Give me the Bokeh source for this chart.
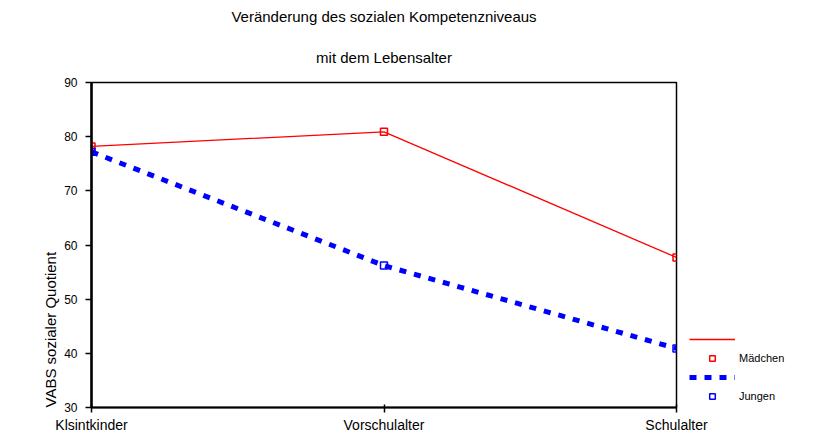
from bokeh.plotting import figure
from bokeh.models import Title, Legend, LegendItem, FixedTicker, Range1d, LinearAxis
from bokeh.embed import file_html
from bokeh.resources import INLINE

# Data
categories = ["Klsintkinder", "Vorschulalter", "Schulalter"]
x_pos = [0, 1, 2]
maedchen = [78.2, 80.9, 57.7]
jungen = [77.2, 56.2, 40.9]
y_ticks = [30, 40, 50, 60, 70, 80, 90]

FONT = "Liberation Sans"
Y_TITLE = "VABS sozialer Quotient"

p = figure(width=809, height=421, output_backend="svg", toolbar_location=None,
           x_range=Range1d(0, 2), y_range=Range1d(30, 90),
           frame_width=585, frame_height=325,
           min_border_left=91, min_border_right=10, min_border_top=10, min_border_bottom=10)

p.add_layout(Title(text="mit dem Lebensalter", align="center", text_font=FONT,
                   text_font_size="15px", text_font_style="normal", text_color="black",
                   standoff=33), "above")
p.add_layout(Title(text="Veränderung des sozialen Kompetenzniveaus", align="center",
                   text_font=FONT, text_font_size="15px", text_font_style="normal",
                   text_color="black", standoff=11), "above")

p.xgrid.visible = False
p.ygrid.visible = False
p.outline_line_color = "black"
p.outline_line_width = 1.5
p.outline_line_alpha = 1

# axes
p.yaxis.ticker = FixedTicker(ticks=y_ticks)
p.yaxis.major_label_text_font = FONT
p.yaxis.major_label_text_font_size = "12px"
p.yaxis.major_label_text_color = "black"
p.yaxis.major_label_standoff = 8
p.yaxis.axis_line_width = 2.5
p.yaxis.axis_line_color = "black"
p.yaxis.major_tick_out = 6
p.yaxis.major_tick_in = 0
p.yaxis.minor_tick_out = 0
p.yaxis.minor_tick_in = 0
p.yaxis.major_tick_line_width = 1.5
p.yaxis.major_tick_line_color = "black"

# empty spacer axis (no ticks, so nothing is drawn) to push the y title outward
spacer = LinearAxis(ticker=FixedTicker(ticks=[], minor_ticks=[]), axis_line_color=None,
                    major_tick_out=34, major_tick_in=0, minor_tick_out=0, minor_tick_in=0,
                    major_tick_line_color="white", minor_tick_line_color=None,
                    major_label_standoff=0)
p.add_layout(spacer, "left")

# y axis title, placed low along the axis as in the original
p.add_layout(Title(text=Y_TITLE, align="left", text_font=FONT,
                   text_font_size="15px", text_font_style="normal",
                   text_color="black", standoff=6), "left")

p.xaxis.ticker = FixedTicker(ticks=x_pos)
p.xaxis.major_label_overrides = {x: c for x, c in zip(x_pos, categories)}
p.xaxis.major_label_text_font = FONT
p.xaxis.major_label_text_font_size = "14px"
p.xaxis.major_label_text_color = "black"
p.xaxis.major_label_standoff = 4
p.xaxis.axis_line_width = 2
p.xaxis.axis_line_color = "black"
p.xaxis.major_tick_out = 5
p.xaxis.major_tick_in = 3
p.xaxis.minor_tick_out = 0
p.xaxis.major_tick_line_width = 1.5
p.xaxis.major_tick_line_color = "black"

# series
r1 = p.line(x_pos, maedchen, line_color="#ff0000", line_width=1.3)
m1 = p.scatter(x_pos, maedchen, marker="square", size=7, fill_color=None,
               line_color="#ff0000", line_width=1.5)
r2 = p.line(x_pos, jungen, line_color="#0000ff", line_width=5, line_dash="7 8")
m2 = p.scatter(x_pos, jungen, marker="square", size=7, fill_color=None,
               line_color="#0000ff", line_width=1.5)

legend = Legend(items=[LegendItem(label="", renderers=[r1]),
                       LegendItem(label="Mädchen", renderers=[m1]),
                       LegendItem(label="", renderers=[r2]),
                       LegendItem(label="Jungen", renderers=[m2])],
                location=(13, 4), border_line_color=None,
                background_fill_alpha=0, glyph_width=46, glyph_height=14,
                label_text_font=FONT, label_text_font_size="11px",
                label_text_color="black", label_height=14,
                label_standoff=4, spacing=5, padding=0, margin=0)
p.add_layout(legend, "right")

open("out.html", "w").write(file_html(p, INLINE))
